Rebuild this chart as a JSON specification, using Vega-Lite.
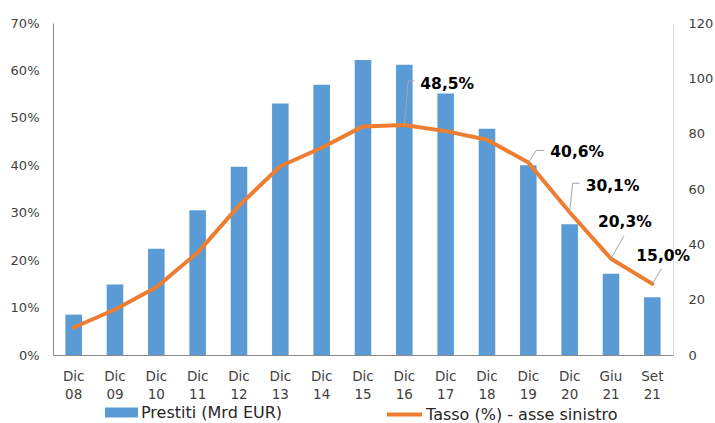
{
  "$schema": "https://vega.github.io/schema/vega-lite/v6.json",
  "autosize": {"type": "none"},
  "width": 620,
  "height": 332,
  "padding": {"left": 53, "top": 23, "right": 42, "bottom": 68},
  "background": "white",
  "config": {
    "view": {"stroke": null},
    "font": "DejaVu Sans",
    "locale": {"number": {"decimal": ",", "thousands": ".", "grouping": [3], "currency": ["", " €"]}},
    "axis": {"labelFont": "DejaVu Sans", "labelFontSize": 13, "labelColor": "#404040", "grid": false, "ticks": false, "title": null}
  },
  "data": {
    "values": [
      {"cat": "Dic 08", "prestiti": 14.6, "tasso": 0.058},
      {"cat": "Dic 09", "prestiti": 25.5, "tasso": 0.096},
      {"cat": "Dic 10", "prestiti": 38.4, "tasso": 0.143},
      {"cat": "Dic 11", "prestiti": 52.3, "tasso": 0.216},
      {"cat": "Dic 12", "prestiti": 68.0, "tasso": 0.315},
      {"cat": "Dic 13", "prestiti": 90.9, "tasso": 0.398},
      {"cat": "Dic 14", "prestiti": 97.7, "tasso": 0.437},
      {"cat": "Dic 15", "prestiti": 106.6, "tasso": 0.482},
      {"cat": "Dic 16", "prestiti": 104.9, "tasso": 0.485},
      {"cat": "Dic 17", "prestiti": 94.5, "tasso": 0.472},
      {"cat": "Dic 18", "prestiti": 81.8, "tasso": 0.454},
      {"cat": "Dic 19", "prestiti": 68.6, "tasso": 0.406},
      {"cat": "Dic 20", "prestiti": 47.3, "tasso": 0.301},
      {"cat": "Giu 21", "prestiti": 29.4, "tasso": 0.203},
      {"cat": "Set 21", "prestiti": 20.9, "tasso": 0.150}
    ]
  },
  "encoding": {
    "x": {
      "field": "cat", "type": "ordinal", "sort": null,
      "scale": {"paddingInner": 0.6, "paddingOuter": 0.3},
      "axis": {"labelAngle": 0, "labelExpr": "split(datum.label, ' ')", "labelLineHeight": 18, "labelPadding": 14, "domainColor": "#898989", "labelFontSize": 13.5}
    }
  },
  "layer": [
    {
      "mark": {"type": "bar"},
      "encoding": {
        "y": {
          "field": "prestiti", "type": "quantitative",
          "scale": {"domain": [0, 120], "nice": false},
          "axis": {"orient": "right", "values": [0, 20, 40, 60, 80, 100, 120], "labelPadding": 15, "domainColor": "#D9D9D9"}
        },
        "fill": {
          "datum": "Prestiti (Mrd EUR)",
          "scale": {"range": ["#5B9BD5"]},
          "legend": {"orient": "none", "legendX": 52, "legendY": 373, "title": null, "padding": 0, "symbolType": "M-1,-0.3H1V0.3H-1Z", "symbolSize": 1089, "symbolStrokeWidth": 0, "labelFontSize": 16, "labelFont": "DejaVu Sans", "labelColor": "#262626", "labelOffset": 3, "labelLimit": 0}
        }
      }
    },
    {
      "encoding": {
        "y": {
          "field": "tasso", "type": "quantitative",
          "scale": {"domain": [0, 0.7], "nice": false},
          "axis": {"orient": "left", "format": ".0%", "values": [0, 0.1, 0.2, 0.3, 0.4, 0.5, 0.6, 0.7], "labelPadding": 14, "domainColor": "#898989"}
        }
      },
      "layer": [
        {
          "mark": {"type": "line", "strokeWidth": 4, "strokeJoin": "round", "strokeCap": "round"},
          "encoding": {
            "stroke": {
              "datum": "Tasso (%) - asse sinistro",
              "scale": {"range": ["#ED7D31"]},
              "legend": {"orient": "none", "legendX": 332, "legendY": 372, "title": null, "padding": 0, "symbolType": "stroke", "symbolSize": 1225, "symbolStrokeWidth": 4, "labelFontSize": 16, "labelFont": "DejaVu Sans", "labelColor": "#262626", "labelOffset": 2, "labelLimit": 0}
            }
          }
        },
        {
          "transform": [{"filter": "datum.cat === 'Dic 16'"}],
          "layer": [
            {"mark": {"type": "rule", "color": "#A6A6A6", "strokeWidth": 1, "x2Offset": 4, "y2Offset": -44}, "encoding": {"x2": {"field": "cat"}, "y2": {"field": "tasso"}}},
            {"mark": {"type": "rule", "color": "#A6A6A6", "strokeWidth": 1, "xOffset": 4, "yOffset": -44, "x2Offset": 10, "y2Offset": -44}, "encoding": {"x2": {"field": "cat"}, "y2": {"field": "tasso"}}},
            {"mark": {"type": "text", "align": "left", "baseline": "middle", "dx": 16, "dy": -41, "fontWeight": "bold", "fontSize": 15.5, "color": "#000000"}, "encoding": {"text": {"field": "tasso", "type": "quantitative", "format": ".1%"}}}
          ]
        },
        {
          "transform": [{"filter": "datum.cat === 'Dic 19'"}],
          "layer": [
            {"mark": {"type": "rule", "color": "#A6A6A6", "strokeWidth": 1, "x2Offset": 8, "y2Offset": -12}, "encoding": {"x2": {"field": "cat"}, "y2": {"field": "tasso"}}},
            {"mark": {"type": "rule", "color": "#A6A6A6", "strokeWidth": 1, "xOffset": 8, "yOffset": -12, "x2Offset": 16, "y2Offset": -12}, "encoding": {"x2": {"field": "cat"}, "y2": {"field": "tasso"}}},
            {"mark": {"type": "text", "align": "left", "baseline": "middle", "dx": 22, "dy": -10, "fontWeight": "bold", "fontSize": 15.5, "color": "#000000"}, "encoding": {"text": {"field": "tasso", "type": "quantitative", "format": ".1%"}}}
          ]
        },
        {
          "transform": [{"filter": "datum.cat === 'Dic 20'"}],
          "layer": [
            {"mark": {"type": "rule", "color": "#A6A6A6", "strokeWidth": 1, "x2Offset": 3, "y2Offset": -29}, "encoding": {"x2": {"field": "cat"}, "y2": {"field": "tasso"}}},
            {"mark": {"type": "rule", "color": "#A6A6A6", "strokeWidth": 1, "xOffset": 3, "yOffset": -29, "x2Offset": 10, "y2Offset": -29}, "encoding": {"x2": {"field": "cat"}, "y2": {"field": "tasso"}}},
            {"mark": {"type": "text", "align": "left", "baseline": "middle", "dx": 16, "dy": -26, "fontWeight": "bold", "fontSize": 15.5, "color": "#000000"}, "encoding": {"text": {"field": "tasso", "type": "quantitative", "format": ".1%"}}}
          ]
        },
        {
          "transform": [{"filter": "datum.cat === 'Giu 21'"}],
          "layer": [
            {"mark": {"type": "rule", "color": "#A6A6A6", "strokeWidth": 1, "x2Offset": 13, "y2Offset": -23}, "encoding": {"x2": {"field": "cat"}, "y2": {"field": "tasso"}}},
            {"mark": {"type": "text", "align": "left", "baseline": "middle", "dx": -13, "dy": -37, "fontWeight": "bold", "fontSize": 15.5, "color": "#000000"}, "encoding": {"text": {"field": "tasso", "type": "quantitative", "format": ".1%"}}}
          ]
        },
        {
          "transform": [{"filter": "datum.cat === 'Set 21'"}],
          "layer": [
            {"mark": {"type": "rule", "color": "#A6A6A6", "strokeWidth": 1, "x2Offset": 9, "y2Offset": -15}, "encoding": {"x2": {"field": "cat"}, "y2": {"field": "tasso"}}},
            {"mark": {"type": "text", "align": "left", "baseline": "middle", "dx": -16, "dy": -28, "fontWeight": "bold", "fontSize": 15.5, "color": "#000000"}, "encoding": {"text": {"field": "tasso", "type": "quantitative", "format": ".1%"}}}
          ]
        }
      ]
    }
  ],
  "resolve": {"scale": {"y": "independent"}}
}
